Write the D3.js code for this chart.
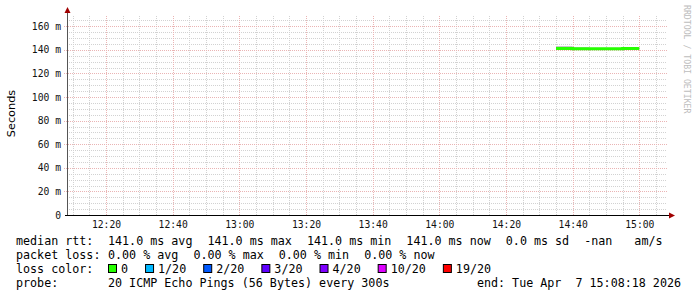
<!DOCTYPE html>
<html lang="en">
<head>
  <meta charset="utf-8">
  <script src="https://d3js.org/d3.v7.min.js"></script>
  <title>smokeping</title>
  <style>
    body { margin: 0; background: #fff; }
    text { font-family: "DejaVu Sans Mono", monospace; white-space: pre; }
    .grid line { shape-rendering: crispEdges; stroke-dasharray: 1,1; }
    .minor line { stroke: #d2d2d2; }
    .major line { stroke: #eab4b4; }
    .axis path { display: none; }
    .axis line { display: none; }
    .axis text { font-size: 9.7px; fill: #111; }
  </style>
</head>
<body>
<svg id="chart" width="697" height="297"></svg>
<script>
// time window (UTC used so local tz doesn't matter)
const tStart = Date.UTC(2026, 3, 7, 12, 8, 18);
const tEnd = Date.UTC(2026, 3, 7, 15, 8, 18);

// 5 min steps, value covers (t-300s, t]
const stepTimes = ["14:40", "14:45", "14:50", "14:55", "15:00"];
const medianMs = [141.0, 140.9, 140.9, 140.9, 141.0];
const smokeLo = [140.5, 140.6, 140.6, 140.7, 140.7];
const smokeHi = [143.2, 142.2, 141.4, 141.3, 141.4];

const yMajor = [0, 20, 40, 60, 80, 100, 120, 140, 160];
const yLabels = ["0", "20 m", "40 m", "60 m", "80 m", "100 m", "120 m", "140 m", "160 m"];

const rttItems = ["141.0 ms avg", "141.0 ms max", "141.0 ms min", "141.0 ms now", "0.0 ms sd", "-nan ", "am/s"];
const lossItems = ["0.00 % avg", "0.00 % max", "0.00 % min", "0.00 % now"];
const lossNames = ["0", "1/20", "2/20", "3/20", "4/20", "10/20", "19/20"];
const lossColors = ["#26ff00", "#00b8ff", "#0059ff", "#5e00ff", "#7e00ff", "#dd00ff", "#ff0000"];
const probeText = "20 ICMP Echo Pings (56 Bytes) every 300s";
const endText = "end: Tue Apr  7 15:08:18 2026";

const svg = d3.select("#chart");
const pLeft = 67, pRight = 667, pTop = 15, pBottom = 215;

const x = d3.scaleUtc().domain([tStart, tEnd]).range([pLeft, pRight]);
const y = d3.scaleLinear().domain([0, 200 / 1.18]).range([pBottom, pTop]);

function toTime(s) {
  let p = s.split(":");
  return Date.UTC(2026, 3, 7, +p[0], +p[1], 0);
}

// grid
let minutes5 = d3.utcMinute.every(5).range(new Date(tStart), new Date(tEnd));
let minorX = minutes5.filter(d => d.getUTCMinutes() % 20 != 0);
let majorX = minutes5.filter(d => d.getUTCMinutes() % 20 == 0);
let minorY = d3.range(5, 170, 5).filter(v => v % 20 != 0);
let majorY = yMajor.filter(v => v > 0);

svg.append("g").attr("class", "grid minor")
  .attr("transform", "translate(0," + pBottom + ")")
  .call(d3.axisBottom(x).tickValues(minorX).tickSize(-(pBottom - pTop)).tickFormat(""))
  .call(g => g.select(".domain").remove());
svg.append("g").attr("class", "grid minor")
  .attr("transform", "translate(" + pLeft + ",0)")
  .call(d3.axisRight(y).tickValues(minorY).tickSize(pRight - pLeft).tickFormat(""))
  .call(g => g.select(".domain").remove());
svg.append("g").attr("class", "grid major")
  .attr("transform", "translate(0," + pBottom + ")")
  .call(d3.axisBottom(x).tickValues(majorX).tickSize(-(pBottom - pTop)).tickFormat(""))
  .call(g => g.select(".domain").remove());
svg.append("g").attr("class", "grid major")
  .attr("transform", "translate(" + (pLeft - 3) + ",0)")
  .call(d3.axisRight(y).tickValues(majorY).tickSize(pRight - pLeft + 3).tickFormat(""))
  .call(g => g.select(".domain").remove());

// smoke
let steps = stepTimes.map((s, i) => ({ t1: toTime(s), t0: toTime(s) - 300000, lo: smokeLo[i], hi: smokeHi[i], med: medianMs[i] }));
svg.append("g").selectAll("rect")
  .data(steps)
  .join("rect")
  .attr("x", d => x(d.t0))
  .attr("width", d => x(d.t1) - x(d.t0))
  .attr("y", d => y(d.hi))
  .attr("height", d => y(d.lo) - y(d.hi))
  .style("fill", "#c8c8c8");
svg.append("g").selectAll("rect")
  .data(steps)
  .join("rect")
  .attr("x", d => x(d.t0))
  .attr("width", d => x(d.t1) - x(d.t0))
  .attr("y", d => y((d.hi + d.med) / 2))
  .attr("height", d => y(d.lo) - y((d.hi + d.med) / 2))
  .style("fill", "#a8a8a8");

// median line
let pts = [[steps[0].t0, steps[0].med]].concat(steps.map(d => [d.t1, d.med]));
svg.append("path")
  .attr("d", d3.line().x(d => x(d[0])).y(d => y(d[1])).curve(d3.curveStepBefore)(pts))
  .style("fill", "none")
  .style("stroke", lossColors[0])
  .style("stroke-width", 3);

// axes lines + arrows
svg.append("line").attr("x1", pLeft + 0.5).attr("x2", pLeft + 0.5).attr("y1", pBottom).attr("y2", pTop - 3)
  .style("stroke", "#555").style("stroke-width", 1);
svg.append("line").attr("x1", pLeft - 2).attr("x2", pRight + 3).attr("y1", pBottom + 0.5).attr("y2", pBottom + 0.5)
  .style("stroke", "#000").style("stroke-width", 1);
svg.append("path").attr("d", `M${pLeft - 2.5},${pTop - 2}L${pLeft + 3.5},${pTop - 2}L${pLeft + 0.5},${pTop - 8}Z`)
  .style("fill", "#a00000");
svg.append("path").attr("d", `M${pRight + 2},${pBottom - 2.5}L${pRight + 2},${pBottom + 3.5}L${pRight + 8},${pBottom + 0.5}Z`)
  .style("fill", "#a00000");

// axis labels
svg.append("g").attr("class", "axis")
  .attr("transform", "translate(0," + pBottom + ")")
  .call(d3.axisBottom(x).tickValues(majorX).tickFormat(d3.utcFormat("%H:%M")).tickSizeInner(0).tickPadding(6));
svg.append("g").attr("class", "axis")
  .attr("transform", "translate(" + (pLeft - 6) + ",0)")
  .call(d3.axisLeft(y).tickValues(yMajor).tickFormat((d, i) => yLabels[i]).tickSizeInner(0).tickPadding(0));

svg.append("text")
  .attr("transform", "translate(15,113.5) rotate(-90)")
  .attr("text-anchor", "middle")
  .style("font-family", "'DejaVu Sans', sans-serif")
  .style("font-size", "11.3px")
  .text("Seconds");

svg.append("text")
  .attr("transform", "translate(684,5) rotate(90)")
  .style("font-size", "8.2px")
  .style("fill", "#bdbdbd")
  .text("RRDTOOL / TOBI OETIKER");

// legend
const fs = "11.7px";
const col0 = 16, col1 = 108, gap = 15;
const rowY = [244.5, 258.5, 272.5, 286.5];

function label(txt, xx, yy) {
  return svg.append("text").attr("x", xx).attr("y", yy).style("font-size", fs).style("fill", "#000").text(txt);
}

function row(items, yy) {
  let cx = col1;
  items.forEach(t => {
    let el = label(t, cx, yy);
    cx += el.node().getComputedTextLength() + gap;
  });
}

label("median rtt:", col0, rowY[0]);
row(rttItems, rowY[0]);
label("packet loss:", col0, rowY[1]);
row(lossItems, rowY[1]);

label("loss color:", col0, rowY[2]);
let bx = col1;
lossNames.forEach((n, i) => {
  svg.append("rect")
    .attr("x", bx + 0.5).attr("y", rowY[2] - 8)
    .attr("width", 8).attr("height", 8)
    .style("fill", lossColors[i]).style("stroke", "#000").style("stroke-width", 1);
  let el = label(n, bx + 13, rowY[2]);
  bx += 13 + el.node().getComputedTextLength() + 17;
});

label("probe:", col0, rowY[3]);
label(probeText, col1, rowY[3]);
label(endText, 681, rowY[3]).attr("text-anchor", "end");
</script>
</body>
</html>
